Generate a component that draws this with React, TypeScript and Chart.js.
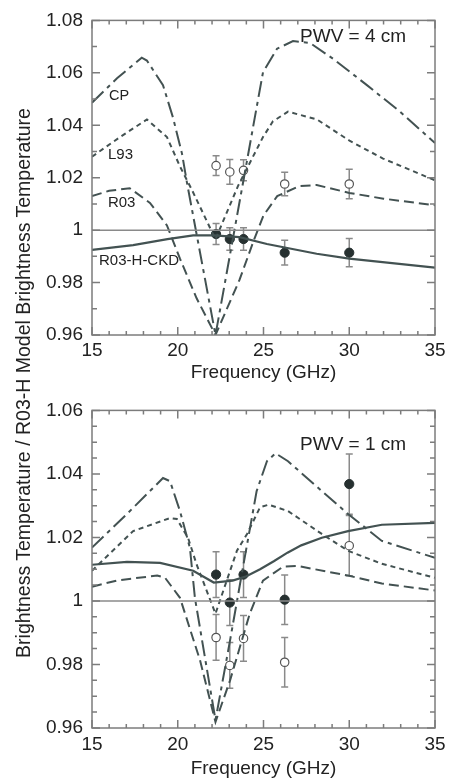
import React, { useEffect, useRef } from "react";
import { Chart, registerables } from "chart.js";

Chart.register(...registerables);

const FONT = "'Liberation Sans', Arial, Helvetica, sans-serif";
const TEXT = "#222222";
const LINE = "#435252";
const GRAY = "#8a8a8a";
const FRAME = "#7c7c7c";

// ---------- shared ----------
const xTicks = [15, 20, 25, 30, 35];
const channels = [22.235, 23.035, 23.835, 26.235, 30.0];
const xTitle = "Frequency (GHz)";
const yTitle = "Brightness Temperature / R03-H Model Brightness Temperature";

// ---------- top panel: PWV = 4 cm ----------
const topYTicks = [0.96, 0.98, 1, 1.02, 1.04, 1.06, 1.08];
const topCPFreq = [15, 16.46, 17.9, 18.2, 19.14, 19.72, 20.25, 20.54, 22.2, 24.97, 25.79, 26.72, 27.71, 29.05, 31.03, 32.96, 35];
const topCPVal = [1.0486, 1.0579, 1.0658, 1.0647, 1.0553, 1.043, 1.0291, 1.018, 0.96, 1.0602, 1.0692, 1.0721, 1.0714, 1.0654, 1.0553, 1.0452, 1.0332];
const topL93Freq = [15, 16.63, 18.2, 19.37, 20.13, 20.83, 22.2, 23.51, 24.97, 25.55, 26.43, 28.12, 30.04, 31.97, 35];
const topL93Val = [1.028, 1.0355, 1.0422, 1.0355, 1.0243, 1.0153, 0.9965, 1.0168, 1.0355, 1.0415, 1.0452, 1.0422, 1.034, 1.0273, 1.019];
const topR03Freq = [15, 16, 17.2, 18.38, 19.37, 20.13, 21.1, 22.2, 23.6, 24.4, 25.0, 25.8, 27.1, 28.1, 30.0, 32.0, 35];
const topR03Val = [1.013, 1.015, 1.016, 1.0104, 1.0018, 0.9891, 0.974, 0.96, 0.981, 0.9955, 1.0056, 1.013, 1.0168, 1.0172, 1.0142, 1.012, 1.0095];
const topCKDFreq = [15, 17.4, 19.4, 20.9, 22.1, 23.6, 25.2, 28.1, 30, 35];
const topCKDVal = [0.9925, 0.9943, 0.9966, 0.998, 0.998, 0.9973, 0.9947, 0.991, 0.9891, 0.9857];
const topFilled = [0.9985, 0.9966, 0.9966, 0.9914, 0.9914];
const topFilledErr = [0.004, 0.0043, 0.0043, 0.0047, 0.0054];
const topOpen = [1.0246, 1.0222, 1.0228, 1.0176, 1.0176];
const topOpenErr = [0.0038, 0.0047, 0.004, 0.0045, 0.0056];

// ---------- bottom panel: PWV = 1 cm ----------
const botYTicks = [0.96, 0.98, 1, 1.02, 1.04, 1.06];
const botCPFreq = [15, 17.04, 19.14, 19.55, 20.13, 20.71, 21.0, 22.2, 23.05, 23.8, 24.6, 25.2, 25.7, 26.43, 28.4, 29.93, 31.9, 35];
const botCPVal = [1.0168, 1.0274, 1.0387, 1.0377, 1.0283, 1.0167, 1.001, 0.9625, 0.9876, 1.0105, 1.0346, 1.044, 1.0465, 1.044, 1.0346, 1.0274, 1.0189, 1.0136];
const botL93Freq = [15, 17.4, 19.55, 19.95, 20.6, 21.1, 22.2, 23.45, 24.04, 24.8, 25.3, 26.43, 28.4, 29.93, 31.9, 35];
const botL93Val = [1.0095, 1.022, 1.0261, 1.0258, 1.0199, 1.0115, 0.996, 1.0158, 1.0211, 1.0295, 1.0303, 1.0283, 1.0211, 1.0158, 1.0117, 1.0073];
const botR03Freq = [15, 16.5, 18.8, 19.26, 20.13, 21.3, 22.2, 23.05, 24.2, 24.97, 26.14, 27.0, 29.93, 31.9, 35];
const botR03Val = [1.0045, 1.0065, 1.008, 1.0073, 1.001, 0.9813, 0.9619, 0.975, 0.996, 1.0064, 1.0108, 1.011, 1.008, 1.0055, 1.0033];
const botCKDFreq = [15, 17.04, 18.97, 20.9, 22.1, 23.2, 24.0, 24.8, 25.6, 26.4, 27.2, 28.4, 29.93, 31.9, 35];
const botCKDVal = [1.0114, 1.0123, 1.012, 1.0095, 1.0058, 1.0064, 1.0078, 1.01, 1.0125, 1.0152, 1.0175, 1.0199, 1.022, 1.024, 1.0246];
const botFilled = [1.0083, 0.9995, 1.0083, 1.0004, 1.0368];
const botFilledErr = [0.0072, 0.0072, 0.0072, 0.0078, 0.0095];
const botOpen = [0.9885, 0.9797, 0.9882, 0.9807, 1.0174];
const botOpenErr = [0.0072, 0.0072, 0.0072, 0.0078, 0.0095];

// annotations (data coordinates)
const topNotes = [
  { text: "PWV = 4 cm", x: 27.13, y: 1.0736, size: 19 },
  { text: "CP", x: 15.99, y: 1.051, size: 14.5 },
  { text: "L93", x: 15.93, y: 1.0286, size: 15 },
  { text: "R03", x: 15.93, y: 1.0104, size: 15 },
  { text: "R03-H-CKD", x: 15.41, y: 0.9882, size: 15 },
];
const botNotes = [{ text: "PWV = 1 cm", x: 27.13, y: 1.0492, size: 19 }];

type Note = { text: string; x: number; y: number; size: number };
type Panel = {
  yTicks: number[];
  yMinor: number;
  cp: [number[], number[]];
  l93: [number[], number[]];
  r03: [number[], number[]];
  ckd: [number[], number[]];
  filled: number[];
  filledErr: number[];
  open: number[];
  openErr: number[];
  notes: Note[];
  padTop: number;
  xAxisH: number;
  tickPad: number;
  titlePad: number;
};

const pts = (f: number[], v: number[]) => f.map((x, i) => ({ x, y: v[i] }));
const fmt = (v: number) => String(Number(v.toFixed(2)));
const isMult = (v: number, s: number) => Math.abs(v / s - Math.round(v / s)) < 1e-6;

function makeChart(canvas: HTMLCanvasElement, p: Panel) {
  const framePlugin = {
    id: "frame",
    afterDatasetsDraw(chart: any) {
      const { ctx, chartArea: a, scales } = chart;
      const xs = scales.x, ys = scales.y;
      ctx.save();
      ctx.strokeStyle = FRAME;
      ctx.lineWidth = 1.5;
      ctx.strokeRect(a.left, a.top, a.right - a.left, a.bottom - a.top);
      ctx.beginPath();
      const nx = Math.round((xs.max - xs.min) / 1);
      for (let i = 0; i <= nx; i++) {
        const v = xs.min + i;
        const px = xs.getPixelForValue(v);
        const len = isMult(v, 5) ? 8 : 4;
        ctx.moveTo(px, a.bottom); ctx.lineTo(px, a.bottom - len);
        ctx.moveTo(px, a.top); ctx.lineTo(px, a.top + len);
      }
      const ny = Math.round((ys.max - ys.min) / p.yMinor);
      for (let i = 0; i <= ny; i++) {
        const v = ys.min + i * p.yMinor;
        const py = ys.getPixelForValue(v);
        const len = isMult(v, 0.02) ? 8 : 5;
        ctx.moveTo(a.left, py); ctx.lineTo(a.left + len, py);
        ctx.moveTo(a.right, py); ctx.lineTo(a.right - len, py);
      }
      ctx.stroke();
      ctx.restore();
    },
  };
  const notePlugin = {
    id: "notes",
    afterDatasetsDraw(chart: any) {
      const { ctx, scales } = chart;
      ctx.save();
      ctx.fillStyle = TEXT;
      ctx.textAlign = "left";
      ctx.textBaseline = "middle";
      for (const n of p.notes) {
        ctx.font = `${n.size}px ${FONT}`;
        ctx.fillText(n.text, scales.x.getPixelForValue(n.x), scales.y.getPixelForValue(n.y));
      }
      ctx.restore();
    },
  };
  const errPlugin = {
    id: "errbars",
    beforeDatasetDraw(chart: any, args: any) {
      const ds = chart.data.datasets[args.index];
      if (!ds.errors) return;
      const { ctx, scales } = chart;
      ctx.save();
      ctx.strokeStyle = GRAY;
      ctx.lineWidth = 1.5;
      ctx.beginPath();
      ds.data.forEach((pt: any, i: number) => {
        const e = ds.errors[i];
        const x = scales.x.getPixelForValue(pt.x);
        const y1 = scales.y.getPixelForValue(pt.y - e);
        const y2 = scales.y.getPixelForValue(pt.y + e);
        ctx.moveTo(x, y1); ctx.lineTo(x, y2);
        ctx.moveTo(x - 3.5, y1); ctx.lineTo(x + 3.5, y1);
        ctx.moveTo(x - 3.5, y2); ctx.lineTo(x + 3.5, y2);
      });
      ctx.stroke();
      ctx.restore();
    },
  };

  const lineDs = (d: [number[], number[]], dash: number[], w: number) => ({
    data: pts(d[0], d[1]),
    borderColor: LINE,
    borderWidth: w,
    borderDash: dash,
    pointRadius: 0,
    tension: 0,
  });

  return new Chart(canvas, {
    type: "line",
    data: {
      datasets: [
        { data: [{ x: xTicks[0], y: 1 }, { x: xTicks[xTicks.length - 1], y: 1 }], borderColor: GRAY, borderWidth: 1.5, pointRadius: 0 },
        lineDs(p.cp, [16, 5, 4, 5], 2),
        lineDs(p.l93, [5, 4], 2),
        lineDs(p.r03, [10, 5], 2),
        lineDs(p.ckd, [], 2.2),
        {
          data: pts(channels, p.open), errors: p.openErr, showLine: false,
          pointRadius: 4.2, pointBackgroundColor: "#ffffff", pointBorderColor: "#555555", pointBorderWidth: 1.2,
        } as any,
        {
          data: pts(channels, p.filled), errors: p.filledErr, showLine: false,
          pointRadius: 4.6, pointBackgroundColor: "#263030", pointBorderColor: "#263030", pointBorderWidth: 1,
        } as any,
      ],
    },
    options: {
      animation: false,
      responsive: false,
      maintainAspectRatio: false,
      layout: { padding: { left: 0, right: 16, top: p.padTop, bottom: 0 } },
      plugins: { legend: { display: false }, tooltip: { enabled: false } },
      scales: {
        x: {
          type: "linear",
          min: xTicks[0],
          max: xTicks[xTicks.length - 1],
          afterBuildTicks: (s: any) => { s.ticks = xTicks.map((v) => ({ value: v })); },
          afterFit: (s: any) => { s.height = p.xAxisH; },
          ticks: { font: { family: FONT, size: 19 }, color: TEXT, padding: p.tickPad, maxRotation: 0, callback: (v: any) => String(v) },
          grid: { display: false, drawTicks: false },
          border: { display: false },
          title: { display: true, text: xTitle, font: { family: FONT, size: 19 }, color: TEXT, padding: { top: 0, bottom: p.titlePad } },
        },
        y: {
          type: "linear",
          min: p.yTicks[0],
          max: p.yTicks[p.yTicks.length - 1],
          afterBuildTicks: (s: any) => { s.ticks = p.yTicks.map((v) => ({ value: v })); },
          afterFit: (s: any) => { s.width = 92; },
          ticks: { font: { family: FONT, size: 19 }, color: TEXT, padding: 9, callback: (v: any) => fmt(Number(v)) },
          grid: { display: false, drawTicks: false },
          border: { display: false },
        },
      },
    } as any,
    plugins: [errPlugin, framePlugin, notePlugin],
  });
}

const topPanel: Panel = {
  yTicks: topYTicks, yMinor: 0.01,
  cp: [topCPFreq, topCPVal], l93: [topL93Freq, topL93Val], r03: [topR03Freq, topR03Val], ckd: [topCKDFreq, topCKDVal],
  filled: topFilled, filledErr: topFilledErr, open: topOpen, openErr: topOpenErr,
  notes: topNotes, padTop: 14, xAxisH: 55, tickPad: 4, titlePad: 6,
};
const botPanel: Panel = {
  yTicks: botYTicks, yMinor: 0.005,
  cp: [botCPFreq, botCPVal], l93: [botL93Freq, botL93Val], r03: [botR03Freq, botR03Val], ckd: [botCKDFreq, botCKDVal],
  filled: botFilled, filledErr: botFilledErr, open: botOpen, openErr: botOpenErr,
  notes: botNotes, padTop: 19, xAxisH: 52, tickPad: 5, titlePad: 0,
};

function PanelChart({ panel, top }: { panel: Panel; top: number }) {
  const ref = useRef<HTMLCanvasElement | null>(null);
  useEffect(() => {
    if (!ref.current) return;
    const c = makeChart(ref.current, panel);
    return () => c.destroy();
  }, [panel]);
  return (
    <canvas
      ref={ref}
      width={451}
      height={390}
      style={{ position: "absolute", left: 0, top, width: 451, height: 390, display: "block" }}
    />
  );
}

export default function App() {
  useEffect(() => {
    document.body.style.margin = "0";
  }, []);
  return (
    <div style={{ position: "relative", width: 451, height: 780, background: "#ffffff", overflow: "hidden" }}>
      <PanelChart panel={topPanel} top={0} />
      <PanelChart panel={botPanel} top={390} />
      <div
        style={{
          position: "absolute",
          left: 23,
          top: 383,
          width: 640,
          height: 24,
          lineHeight: "24px",
          textAlign: "center",
          whiteSpace: "nowrap",
          fontFamily: FONT,
          fontSize: 19.5,
          color: TEXT,
          transform: "translate(-50%, -50%) rotate(-90deg)",
        }}
      >
        {yTitle}
      </div>
    </div>
  );
}
